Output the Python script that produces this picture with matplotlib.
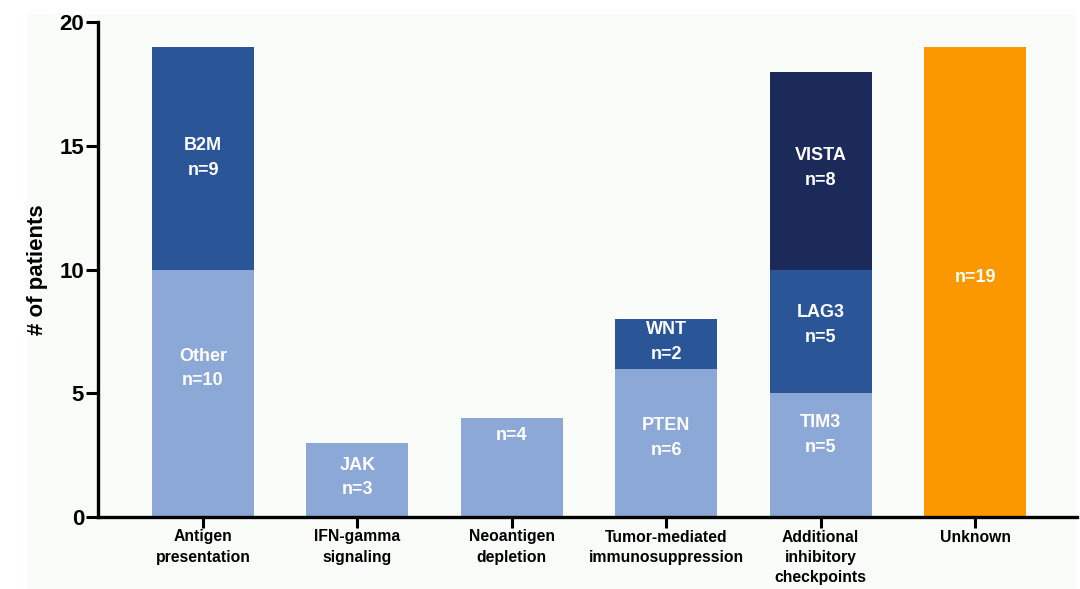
import matplotlib.pyplot as plt
import matplotlib.patches as mpatches
import numpy as np

plt.rcParams['font.family'] = ['Liberation Sans', 'DejaVu Sans']
plt.rcParams['font.weight'] = 'bold'

categories = ["Antigen\npresentation", "IFN-gamma\nsignaling", "Neoantigen\ndepletion",
              "Tumor-mediated\nimmunosuppression", "Additional\ninhibitory\ncheckpoints", "Unknown"]
light_vals = [10, 3, 4, 6, 5, 0]
mid_vals = [9, 0, 0, 2, 5, 0]
dark_vals = [0, 0, 0, 0, 8, 0]
unknown_vals = [0, 0, 0, 0, 0, 19]

light_names = ["Other", "JAK", "", "PTEN", "TIM3", ""]
mid_names = ["B2M", "", "", "WNT", "LAG3", ""]
dark_names = ["", "", "", "", "VISTA", ""]

# label heights (in data units) as placed in the original figure
light_label_y = [6.0, 1.6, 3.3, 3.2, 3.3, 0]
mid_label_y = [14.5, 0, 0, 7.07, 7.75, 0]
dark_label_y = [0, 0, 0, 0, 14.1, 0]
unknown_label_y = 9.66

c_light = "#8ca8d6"
c_mid = "#2a5597"
c_dark = "#1c2a5a"
c_orange = "#fb9800"

fig = plt.figure(figsize=(10.8, 5.89), dpi=100)
fig.patches.append(mpatches.Rectangle((0.025, 0.0), 0.97, 0.977, transform=fig.transFigure,
                                      color="#fafcfa", zorder=-10))
ax = fig.add_axes([98 / 1080, 1 - 517 / 589, (1077 - 98) / 1080, (517 - 22) / 589])
ax.patch.set_alpha(0)

x = np.arange(len(categories))
w = 0.66
light = np.array(light_vals)
mid = np.array(mid_vals)
dark = np.array(dark_vals)
ax.bar(x, light, w, color=c_light)
ax.bar(x, mid, w, bottom=light, color=c_mid)
ax.bar(x, dark, w, bottom=light + mid, color=c_dark)
ax.bar(x, unknown_vals, w, color=c_orange)

tkw = dict(ha="center", va="center", color="white", fontsize=13, fontweight="bold", linespacing=1.6)
for i in range(len(categories)):
    if light[i] > 0:
        txt = (light_names[i] + "\n" if light_names[i] else "") + "n=%d" % light[i]
        ax.text(x[i], light_label_y[i], txt, **tkw)
    if mid[i] > 0:
        ax.text(x[i], mid_label_y[i], mid_names[i] + "\nn=%d" % mid[i], **tkw)
    if dark[i] > 0:
        ax.text(x[i], dark_label_y[i], dark_names[i] + "\nn=%d" % dark[i], **tkw)
    if unknown_vals[i] > 0:
        ax.text(x[i], unknown_label_y, "n=%d" % unknown_vals[i], **tkw)

ax.set_xlim(-0.68, 5.66)
ax.set_ylim(0, 20)
ax.set_yticks([0, 5, 10, 15, 20])
ax.set_xticks(x)
ax.set_xticklabels(categories, fontsize=11.3, fontweight="bold", linespacing=1.45)
ax.tick_params(axis="y", labelsize=16, width=2.2, length=9, pad=1)
ax.tick_params(axis="x", width=2.2, length=8, pad=1)
for lab in ax.get_yticklabels():
    lab.set_fontweight("bold")
for s in ["top", "right"]:
    ax.spines[s].set_visible(False)
for s in ["left", "bottom"]:
    ax.spines[s].set_linewidth(2.4)
ax.set_ylabel("# of patients", fontsize=16, fontweight="bold", labelpad=8)

fig.savefig("out.png", dpi=100)
